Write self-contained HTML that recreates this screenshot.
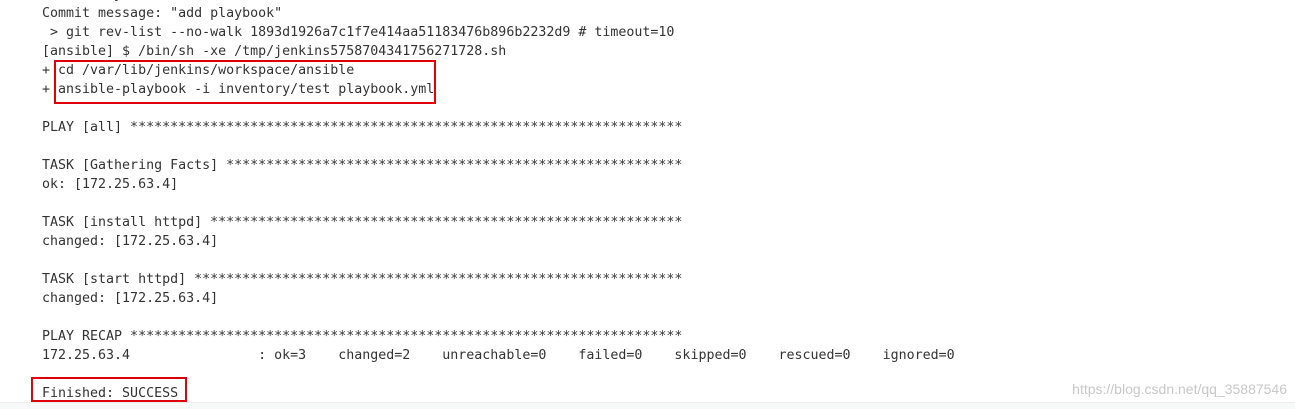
<!DOCTYPE html>
<html><head><meta charset="utf-8"><style>
html,body{margin:0;padding:0;background:#fff;width:1295px;height:409px;overflow:hidden;position:relative}
pre{position:absolute;left:42px;top:-15px;margin:0;font-family:"DejaVu Sans Mono","Liberation Mono",monospace;font-size:13.3px;line-height:19px;color:#333}
.box{position:absolute;border:2px solid #e0000c}
.wm{position:absolute;right:8px;top:381px;font-family:"Liberation Sans",sans-serif;font-size:14px;color:#c8c8c8}
.foot{position:absolute;left:0;top:402px;width:1295px;height:7px;background:#f7f8f8;border-top:1px solid #eceeee}
</style></head><body>
<pre>Started by user admin
Commit message: "add playbook"
 &gt; git rev-list --no-walk 1893d1926a7c1f7e414aa51183476b896b2232d9 # timeout=10
[ansible] $ /bin/sh -xe /tmp/jenkins5758704341756271728.sh
+ cd /var/lib/jenkins/workspace/ansible
+ ansible-playbook -i inventory/test playbook.yml

PLAY [all] *********************************************************************

TASK [Gathering Facts] *********************************************************
ok: [172.25.63.4]

TASK [install httpd] ***********************************************************
changed: [172.25.63.4]

TASK [start httpd] *************************************************************
changed: [172.25.63.4]

PLAY RECAP *********************************************************************
172.25.63.4                : ok=3    changed=2    unreachable=0    failed=0    skipped=0    rescued=0    ignored=0   

Finished: SUCCESS</pre>
<div class="box" style="left:54px;top:60px;width:378px;height:40px"></div>
<div class="box" style="left:31px;top:377px;width:152px;height:21px"></div>
<div class="foot"></div>
<div class="wm">https://blog.csdn.net/qq_35887546</div>
</body></html>
